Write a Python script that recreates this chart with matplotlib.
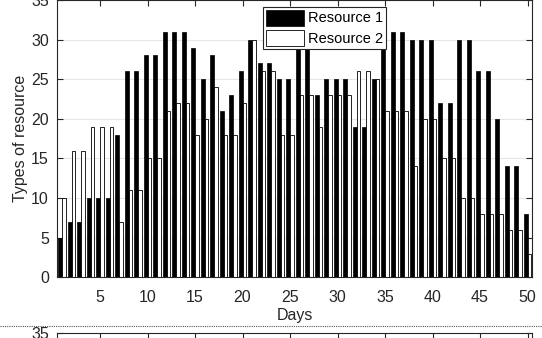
import matplotlib
matplotlib.use("Agg")
import matplotlib.pyplot as plt
import numpy as np
from matplotlib.lines import Line2D

plt.rcParams['font.family'] = ['Liberation Sans', 'DejaVu Sans']

days = list(range(1, 51))
resource1 = [5, 7, 7, 10, 10, 10, 18, 26, 26, 28,
             28, 31, 31, 31, 29, 25, 28, 21, 23, 26,
             30, 27, 27, 25, 25, 30, 30, 23, 25, 25,
             25, 19, 19, 25, 31, 31, 31, 30, 30, 30,
             22, 22, 30, 30, 26, 26, 20, 14, 14, 8]
resource2 = [10, 16, 16, 19, 19, 19, 7, 11, 11, 15,
             15, 21, 22, 22, 18, 20, 24, 18, 18, 22,
             30, 26, 26, 18, 18, 23, 23, 19, 23, 23,
             23, 26, 26, 25, 21, 21, 21, 14, 20, 20,
             15, 15, 10, 10, 8, 8, 8, 6, 6, 3]
series_names = ["Resource 1", "Resource 2"]
xticks = [5, 10, 15, 20, 25, 30, 35, 40, 45, 50]
yticks = [0, 5, 10, 15, 20, 25, 30, 35]

W, H = 542, 338
fig = plt.figure(figsize=(W / 100, H / 100), dpi=100)

left = 57.3 / W
right = 532.3 / W
ax_bottom = (H - 277.3) / H
ax_top = (H - 0.0) / H
ax = fig.add_axes([left, ax_bottom, right - left, ax_top - ax_bottom])

x = np.array(days)
off = 0.19
bw = 0.38
ax.bar(x - off, resource1, width=bw, color='black', edgecolor='black',
       linewidth=0.5, label=series_names[0], zorder=2)
ax.bar(x + off, resource2, width=bw, color='white', edgecolor='black',
       linewidth=0.6, label=series_names[1], zorder=2)

ax.set_xlim(0.5, 50.5)
ax.set_ylim(0, 35)
ax.set_xticks(xticks)
ax.set_yticks(yticks)
tc = '#262626'
ax.tick_params(direction='in', length=4, width=0.8, colors=tc, labelsize=11.5,
               top=True, right=True, pad=6)
ax.tick_params(axis='x', pad=9)
for s in ax.spines.values():
    s.set_color(tc)
    s.set_linewidth(0.8)
ax.yaxis.grid(True, color='#e6e6e6', linewidth=0.8, zorder=0)
ax.set_axisbelow(True)
ax.set_xlabel('Days', fontsize=11.5, color=tc, labelpad=2)
ax.set_ylabel('Types of resource', fontsize=11.5, color=tc, labelpad=2)

leg = ax.legend(loc='upper left', bbox_to_anchor=((262.7 - 57.3) / (532.3 - 57.3), 1 - 6.7 / 277.3),
                fontsize=10.5, frameon=True, fancybox=False, edgecolor=tc,
                framealpha=1, borderpad=0.2, handlelength=2.6, handleheight=1.3,
                labelspacing=0.3, handletextpad=0.3, borderaxespad=0)
leg.get_frame().set_linewidth(0.8)
leg.set_zorder(5)

# dotted separator line
yline = (H - 325.7) / H
fig.add_artist(Line2D([0, 1], [yline, yline], transform=fig.transFigure,
                      color='#555555', linestyle=(0, (1, 1)), linewidth=0.8))

# second (cropped) axes below
top2 = (H - 332.7) / H
h2 = ax_top - ax_bottom
ax2 = fig.add_axes([left, top2 - h2, right - left, h2])
ax2.set_xlim(0.5, 50.5)
ax2.set_ylim(0, 35)
ax2.set_xticks(xticks)
ax2.set_yticks(yticks)
ax2.tick_params(direction='in', length=4, width=0.8, colors=tc, labelsize=11.5,
                top=True, right=True, pad=6, labelbottom=False)
for s in ax2.spines.values():
    s.set_color(tc)
    s.set_linewidth(0.8)

fig.savefig('out.png', dpi=100)
